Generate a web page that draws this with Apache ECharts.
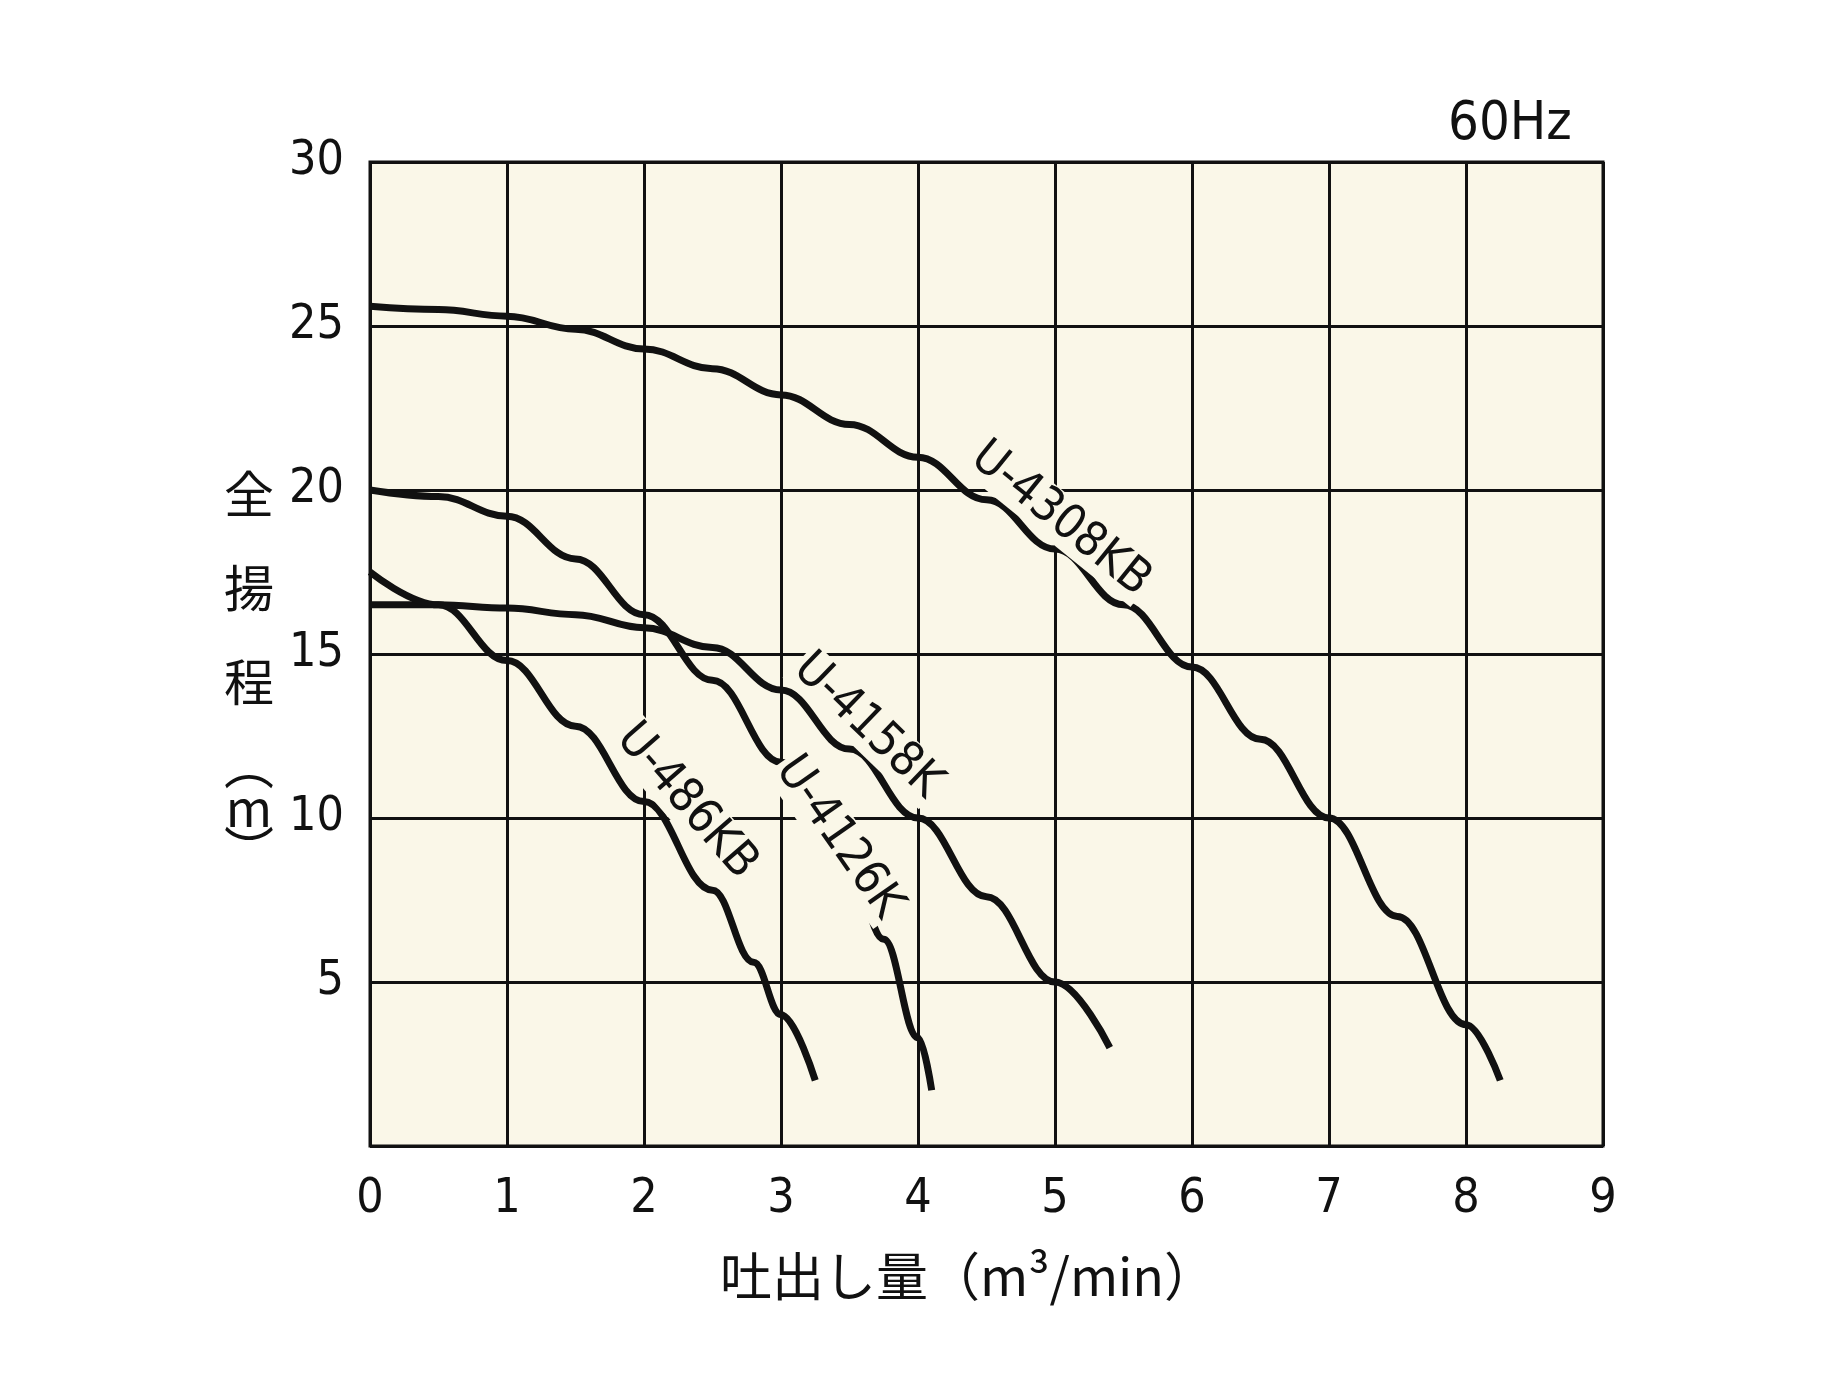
<!DOCTYPE html>
<html><head><meta charset="utf-8">
<script src="https://cdn.jsdelivr.net/npm/echarts@6/dist/echarts.min.js"></script>
<style>html,body{margin:0;background:#fff}#c{width:1826px;height:1381px}</style></head>
<body><div id="c"></div>
<script>
const u4308KB = [[0,25.6],[0.5,25.5],[1,25.3],[1.5,24.9],[2,24.3],[2.5,23.7],[3,22.9],[3.5,22.0],[4,21.0],[4.5,19.7],[5,18.2],[5.5,16.5],[6,14.6],[6.5,12.4],[7,10.0],[7.5,7.0],[8,3.7],[8.25,2.0]];
const u4158K = [[0,16.5],[0.5,16.5],[1,16.4],[1.5,16.2],[2,15.8],[2.5,15.2],[3,13.9],[3.5,12.1],[4,10.0],[4.5,7.6],[5,5.0],[5.4,3.0]];
const u4126K = [[0,20.0],[0.5,19.8],[1,19.2],[1.5,17.9],[2,16.2],[2.5,14.2],[3,11.7],[3.5,8.6],[3.75,6.3],[4,3.3],[4.1,1.7]];
const u486KB = [[0,17.5],[0.5,16.5],[1,14.8],[1.5,12.8],[2,10.5],[2.5,7.8],[2.8,5.6],[3,4.0],[3.25,2.0]];
const labels = [
  {text:'U-4308KB', at:[5.04,19.1], angle:-39},
  {text:'U-4158K', at:[3.63,12.8], angle:-44},
  {text:'U-4126K', at:[3.42,9.4], angle:-55},
  {text:'U-486KB', at:[2.31,10.5], angle:-49}
];
const xTicks=[0,1,2,3,4,5,6,7,8,9];
const yTicks=[0,5,10,15,20,25,30];
const NUM='"Liberation Sans Narrow","DejaVu Sans Condensed",sans-serif';
const JP='"Noto Sans CJK JP",sans-serif';
const chart=echarts.init(document.getElementById('c'));
const line=d=>({type:'line',data:d,smooth:0.4,smoothMonotone:'x',symbol:'none',lineStyle:{color:'#111',width:7},z:3});
const ytitle=[['全',494],['揚',588],['程',682],['︵',765],['m',808],['︶',850]].map(([t,y])=>({type:'text',x:249,y:y,
  style:{text:t,fontSize:50,fill:'#111',fontFamily:JP,align:'center',verticalAlign:'middle'}}));
chart.setOption({
  animation:false,
  grid:{left:370,top:162,width:1233,height:984,backgroundColor:'#faf7e8',show:true,borderColor:'#111',borderWidth:3},
  xAxis:{type:'value',min:0,max:9,interval:1,axisLine:{show:false},axisTick:{show:false},
    splitLine:{lineStyle:{color:'#111',width:3}},
    axisLabel:{fontSize:48,color:'#111',fontFamily:NUM,margin:30}},
  yAxis:{type:'value',min:0,max:30,interval:5,axisLine:{show:false},axisTick:{show:false},
    splitLine:{lineStyle:{color:'#111',width:3}},
    axisLabel:{fontSize:48,color:'#111',fontFamily:NUM,margin:26,formatter:v=>v===0?'':v}},
  series:[line(u4308KB),line(u4158K),line(u4126K),line(u486KB)],
  graphic:[
    {type:'text',left:1448,top:98,style:{text:'60Hz',fontSize:54,fill:'#111',fontFamily:NUM}},
    {type:'text',left:720,top:1250,style:{text:'吐出し量（m³/min）',fontSize:52,fill:'#111',fontFamily:JP}}
  ].concat(ytitle)
});
const g=labels.map(l=>{const p=chart.convertToPixel({gridIndex:0},l.at);return {type:'text',x:p[0],y:p[1],rotation:l.angle*Math.PI/180,z:10,
  style:{text:l.text,fontSize:48,fill:'#111',fontFamily:NUM,align:'center',verticalAlign:'middle',backgroundColor:'#faf7e8',padding:[0,2]}};});
chart.setOption({graphic:chart.getOption().graphic[0].elements.concat(g)});
</script></body></html>
